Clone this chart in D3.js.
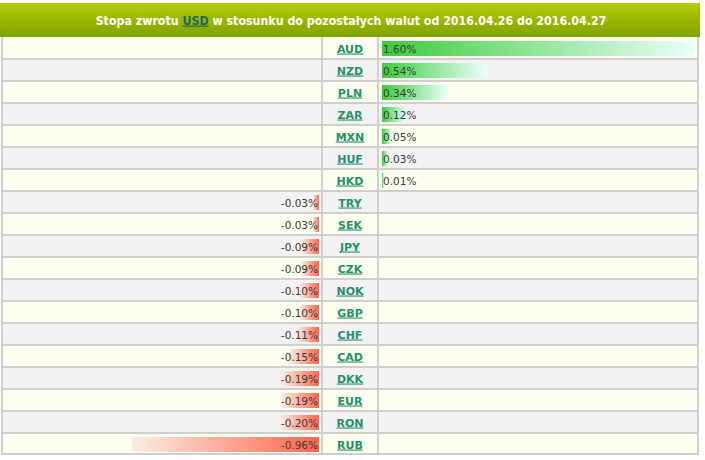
<!DOCTYPE html>
<html><head><meta charset="utf-8">
<script src="https://cdn.jsdelivr.net/npm/d3@7/dist/d3.min.js"></script>
<style>body{margin:0;background:#fff;}svg{display:block;}</style>
</head><body>
<script>
const currencies = ["AUD","NZD","PLN","ZAR","MXN","HUF","HKD","TRY","SEK","JPY","CZK","NOK","GBP","CHF","CAD","DKK","EUR","RON","RUB"];
const values = [1.60,0.54,0.34,0.12,0.05,0.03,0.01,-0.03,-0.03,-0.09,-0.09,-0.10,-0.10,-0.11,-0.15,-0.19,-0.19,-0.20,-0.96];
const titlePre = "Stopa zwrotu ";
const titleBase = "USD";
const titlePost = " w stosunku do pozostałych walut od 2016.04.26 do 2016.04.27";

const W = 705, H = 460;
const svg = d3.select("body").append("svg").attr("width", W).attr("height", H);
const defs = svg.append("defs");
const hg = defs.append("linearGradient").attr("id","hdr").attr("x1",0).attr("y1",0).attr("x2",0).attr("y2",1);
hg.append("stop").attr("offset","0%").attr("stop-color","#b6ca00");
hg.append("stop").attr("offset","100%").attr("stop-color","#7ea400");
const pg = defs.append("linearGradient").attr("id","pos");
pg.append("stop").attr("offset","0%").attr("stop-color","#3ccc3c");
pg.append("stop").attr("offset","100%").attr("stop-color","#ebfffb");
const ng = defs.append("linearGradient").attr("id","neg");
ng.append("stop").attr("offset","0%").attr("stop-color","#f9eee2");
ng.append("stop").attr("offset","100%").attr("stop-color","#ff654c");

const tLeft = 1, tRight = 699, tTop = 37, rowH = 22;
const colA = 322, colB = 378;
const tBottom = tTop + rowH*currencies.length;
const y = d3.scaleBand().domain(currencies).range([tTop, tBottom]);
const w = d3.scaleLinear().domain([0, 1.6]).range([0, 312]);
const fmt = d3.formatLocale({decimal: ".", thousands: ",", grouping: [3], currency: ["", ""], minus: "-"}).format(".2f");

// header
svg.append("rect").attr("x",0).attr("y",3).attr("width",700).attr("height",34).attr("fill","url(#hdr)");
const t = svg.append("text").attr("x",351).attr("y",24.5).attr("text-anchor","middle")
  .attr("font-family","'DejaVu Sans Condensed','DejaVu Sans',sans-serif").attr("font-weight","bold")
  .attr("font-size",12.3).attr("fill","#fff");
t.append("tspan").text(titlePre);
t.append("tspan").attr("fill","#1e6b58").style("text-decoration","underline").text(titleBase);
t.append("tspan").text(titlePost);

const rows = svg.append("g").selectAll("g").data(currencies).join("g");
rows.append("rect").attr("x",tLeft).attr("y",d=>y(d)).attr("width",tRight-tLeft).attr("height",rowH)
  .attr("fill",(d,i)=> i%2===0 ? "#fbffee" : "#f2f2f2");

// grid lines
const grid = svg.append("g").attr("stroke","#cfcfcf").attr("stroke-width",2);
currencies.forEach((c,i)=>{ if(i>0) grid.append("line").attr("x1",tLeft).attr("x2",tRight).attr("y1",y(c)).attr("y2",y(c)); });
grid.append("line").attr("x1",tLeft).attr("x2",tRight).attr("y1",tBottom-1).attr("y2",tBottom-1);
grid.append("line").attr("x1",colA).attr("x2",colA).attr("y1",tTop).attr("y2",tBottom);
grid.append("line").attr("x1",colB).attr("x2",colB).attr("y1",tTop).attr("y2",tBottom);
grid.append("line").attr("x1",2).attr("x2",2).attr("y1",tTop).attr("y2",tBottom);
grid.append("line").attr("x1",698).attr("x2",698).attr("y1",tTop).attr("y2",tBottom);

// bars
const data = currencies.map((c,i)=>({c, v: values[i]}));
svg.append("g").selectAll("rect").data(data).join("rect")
  .attr("x", d => d.v >= 0 ? 382 : 319 - w(-d.v))
  .attr("y", d => y(d.c) + 4)
  .attr("width", d => Math.max(2, w(Math.abs(d.v))))
  .attr("height", 15)
  .attr("fill", d => d.v >= 0 ? "url(#pos)" : "url(#neg)");

// value labels
svg.append("g").selectAll("text").data(data).join("text")
  .attr("x", d => d.v >= 0 ? 383 : 318)
  .attr("y", d => y(d.c) + 15.5)
  .attr("text-anchor", d => d.v >= 0 ? "start" : "end")
  .attr("font-family","'DejaVu Sans',Verdana,sans-serif").attr("font-size",10.5).attr("fill","#3a3a3a")
  .text(d => fmt(d.v) + "%");

// currency labels
svg.append("g").selectAll("text").data(currencies).join("text")
  .attr("x", 350).attr("y", d => y(d) + 15.5).attr("text-anchor","middle")
  .attr("font-family","'DejaVu Sans',Verdana,sans-serif").attr("font-weight","bold").attr("font-size",11)
  .attr("fill","#23906c").style("text-decoration","underline")
  .text(d => d);
</script>
</body></html>
